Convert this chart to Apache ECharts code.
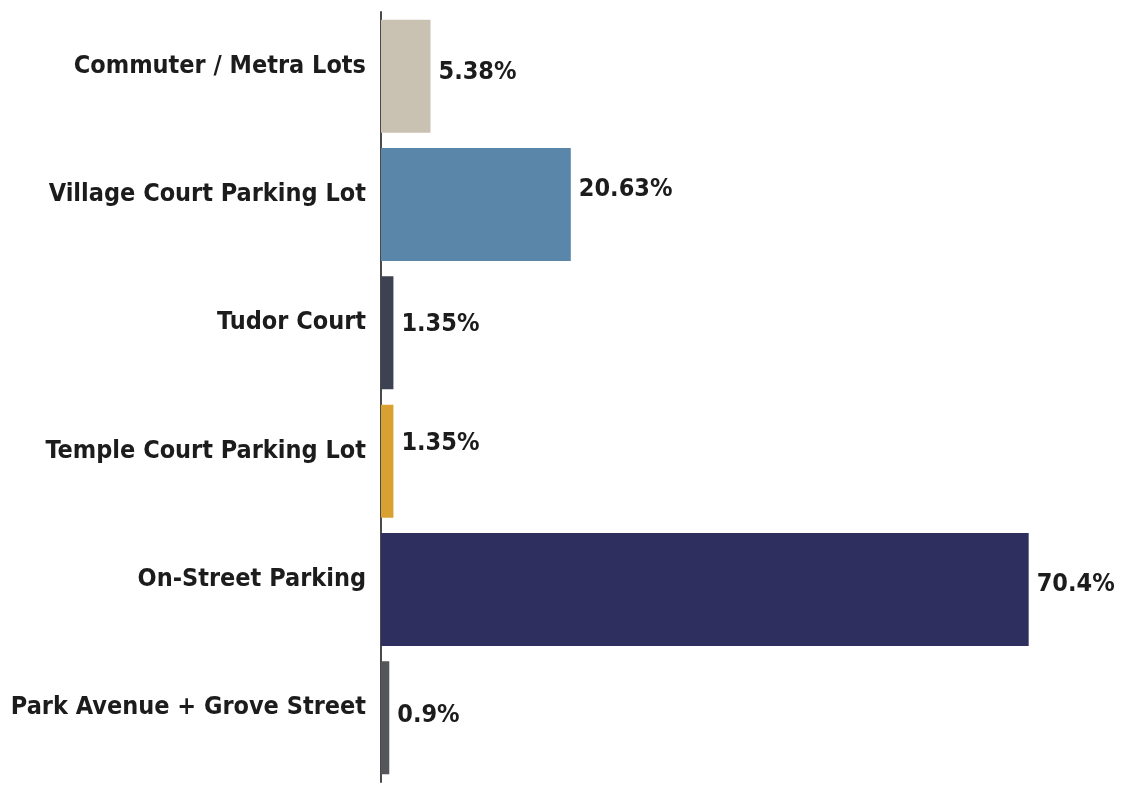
<!DOCTYPE html>
<html>
<head>
<meta charset="utf-8">
<script src="https://cdn.jsdelivr.net/npm/echarts@6/dist/echarts.min.js"></script>
<style>
  html, body { margin: 0; padding: 0; background: #fff; }
  #chart { width: 1144px; height: 790px; }
</style>
</head>
<body>
<div id="chart"></div>
<script>
const categories = [
  "Commuter / Metra Lots",
  "Village Court Parking Lot",
  "Tudor Court",
  "Temple Court Parking Lot",
  "On-Street Parking",
  "Park Avenue + Grove Street",
];
const shares = [5.38, 20.63, 1.35, 1.35, 70.4, 0.9];
const shareLabels = ["5.38%", "20.63%", "1.35%", "1.35%", "70.4%", "0.9%"];
const barColors = ["#c9c1b1", "#5a86a9", "#3c4252", "#d9a032", "#2e2f5f", "#555659"];

const font = "'DejaVu Sans Condensed', 'Liberation Sans Narrow', sans-serif";
// value labels sit a little above the bar middle in the original
const labelLift = [-4, -15, -8, -18, -5, -2];

const myChart = echarts.init(document.getElementById("chart"));

const option = {
  backgroundColor: "#fff",
  animation: false,
  grid: {
    left: 381,
    right: 27,
    top: 12,
    bottom: 8,
    containLabel: false,
    outerBoundsMode: "none",
  },
  xAxis: {
    type: "value",
    min: 0,
    max: 80,
    show: false,
  },
  yAxis: {
    type: "category",
    inverse: true,
    data: categories,
    axisLine: { show: true, lineStyle: { color: "#4a4a4a", width: 2 } },
    axisTick: { show: false },
    axisLabel: {
      margin: 15,
      color: "#1c1c1c",
      fontFamily: font,
      fontWeight: "bold",
      fontSize: 25,
      verticalAlign: "bottom",
      lineHeight: 20,
    },
  },
  series: [
    {
      type: "bar",
      barCategoryGap: "12%",
      data: shares.map((v, i) => ({
        value: v,
        itemStyle: { color: barColors[i] },
        label: { offset: [0, labelLift[i]] },
      })),
      label: {
        show: true,
        position: "right",
        distance: 8,
        color: "#1c1c1c",
        fontFamily: font,
        fontWeight: "bold",
        fontSize: 25,
        formatter: (p) => shareLabels[p.dataIndex],
      },
    },
  ],
};

myChart.setOption(option);
</script>
</body>
</html>
